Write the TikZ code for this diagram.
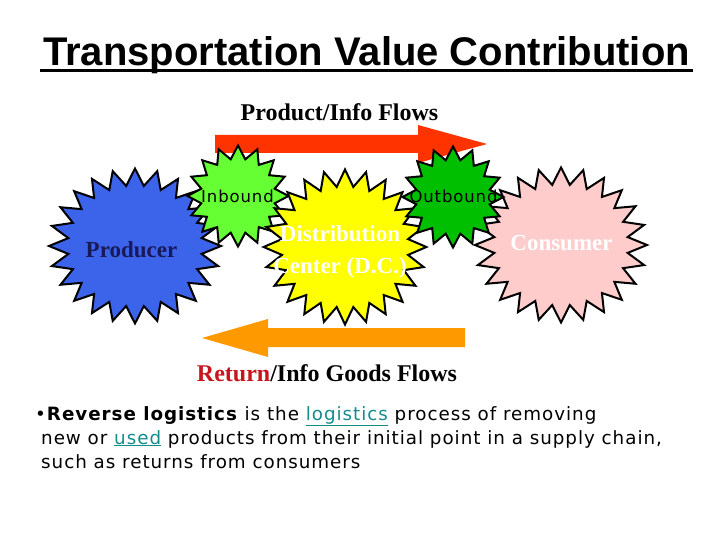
\documentclass[tikz,border=0pt]{standalone}
\usepackage{fontspec}
\setmainfont{Liberation Serif}
\newfontfamily\arialfont{Liberation Sans}
\newfontfamily\verdfont[LetterSpace=5.3]{DejaVu Sans}
\usetikzlibrary{shapes.geometric}

\definecolor{prodblue}{RGB}{60,100,235}
\definecolor{prodnavy}{RGB}{25,25,90}
\definecolor{inlime}{RGB}{102,255,51}
\definecolor{dcyellow}{RGB}{255,255,0}
\definecolor{outgreen}{RGB}{0,190,0}
\definecolor{conpink}{RGB}{255,204,204}
\definecolor{flowred}{RGB}{255,51,0}
\definecolor{floworange}{RGB}{255,153,0}
\definecolor{returnred}{RGB}{200,20,30}
\definecolor{linkteal}{RGB}{20,140,140}

\newcommand{\linkword}[1]{\textcolor{linkteal}{\underline{#1}}}

\begin{document}
\begin{tikzpicture}[x=1pt,y=-1pt,
  burst/.style={star, draw=black, line width=2pt, inner sep=0pt, transform shape},
  bigburst/.style={burst, star points=24, star point ratio=1.28, minimum size=155pt},
  smallburst/.style={burst, star points=16, star point ratio=1.35, minimum size=101pt},
  flowlabel/.style={font=\fontsize{24}{27}\selectfont\bfseries, anchor=base},
  burstlabel/.style={font=\fontsize{23}{32}\selectfont\bfseries, align=center},
  smalllabel/.style={font=\verdfont\fontsize{16.5}{18}\selectfont, anchor=base}]
\useasboundingbox (0,0) rectangle (720,540);

% title
\node[font=\arialfont\bfseries\fontsize{40}{44}\selectfont, anchor=base, inner sep=0pt] (title) at (366.5,66) {Transportation Value Contribution};
\draw[line width=2.5pt] ([xshift=-3pt,yshift=-4.5pt]title.base west) -- ([xshift=3pt,yshift=-4.5pt]title.base east);

% stars
\node[bigburst, fill=prodblue, xscale=1.11] (producer) at (135,246) {};
\node[bigburst, fill=conpink, xscale=1.11] (consumer) at (561,245) {};

% product flow
\fill[flowred] (215,135) -- (418,135) -- (418,125) -- (487,144) -- (418,163) -- (418,153) -- (215,153) -- cycle;
\node[flowlabel] (prodflow) at (339.5,121) {Product/Info Flows};

\node[smallburst, fill=inlime] (inbound) at (238,196) {};
\node[bigburst, fill=dcyellow, xscale=1.05] (dc) at (345,247) {};
\node[smallburst, fill=outgreen] (outbound) at (453,197) {};

% labels
\node[burstlabel, text=prodnavy, anchor=base] (producerlabel) at (131.5,257) {Producer};
\node[burstlabel, text=white, anchor=base] (consumerlabel) at (561.5,250) {Consumer};
\node[burstlabel, text=white] (dclabel) at (340,252) {Distribution\\Center (D.C.)};
\node[smalllabel] (inlabel) at (237.5,203) {Inbound};
\node[smalllabel] (outlabel) at (453.5,203) {Outbound};

% return flow
\fill[floworange] (465,328) -- (268,328) -- (268,319) -- (202,338) -- (268,357) -- (268,347) -- (465,347) -- cycle;
\node[flowlabel] (returnflow) at (327,381) {\textcolor{returnred}{Return}/Info Goods Flows};

% definition (base = last line)
\node[font=\verdfont\fontsize{18.3}{24}\selectfont, anchor=base west, align=left, inner sep=0pt] (note) at (41,468)
  {\hspace*{-6pt}•\textbf{Reverse logistics} is the \linkword{logistics} process of removing\\
   new or \linkword{used} products from their initial point in a supply chain,\\
   such as returns from consumers};
\end{tikzpicture}
\end{document}
